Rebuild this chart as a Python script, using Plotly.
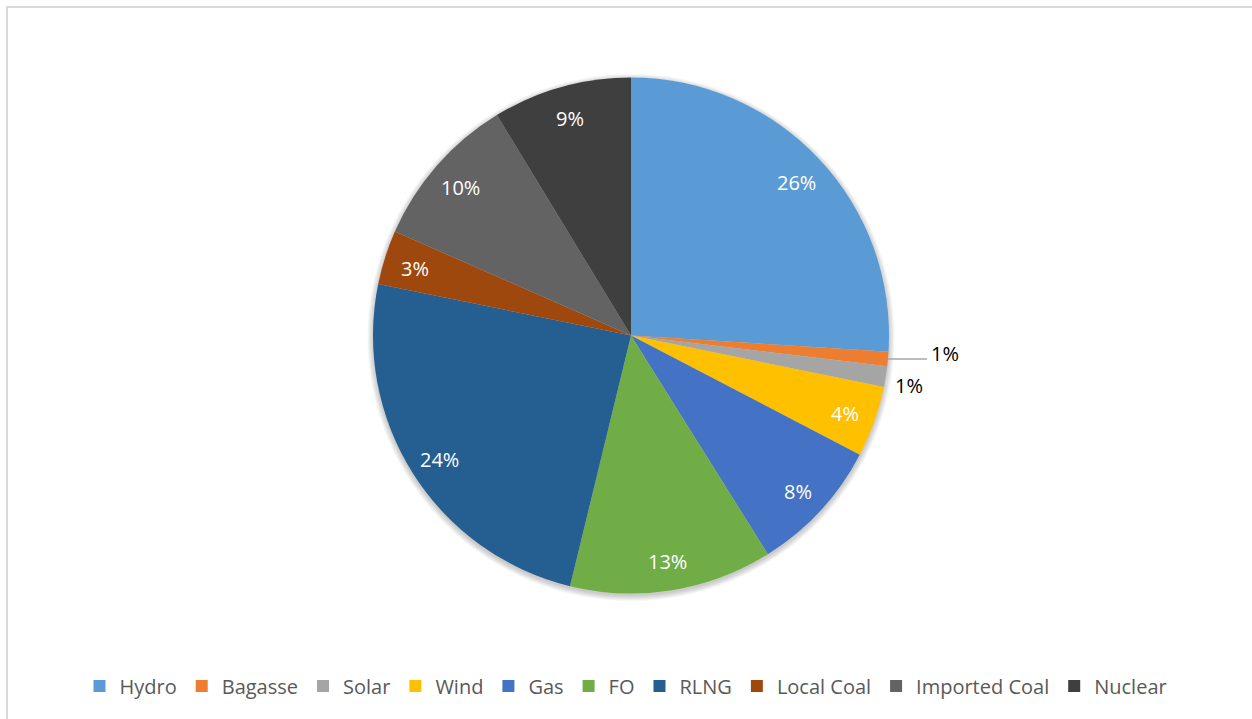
import math
import plotly.graph_objects as go

# Electricity generation mix by fuel (% share)
fuels = ["Hydro", "Bagasse", "Solar", "Wind", "Gas", "FO", "RLNG",
         "Local Coal", "Imported Coal", "Nuclear"]
shares = [26.0, 0.9, 1.3, 4.45, 8.45, 12.7, 24.4, 3.4, 9.7, 8.7]
colors = ["#5b9bd5", "#ed7d31", "#a5a5a5", "#ffc000", "#4472c4",
          "#70ad47", "#255e91", "#9e480e", "#636363", "#3f3f3f"]
# slices whose labels sit outside the pie
outside = {"Bagasse": "leader", "Solar": "plain"}

W, H = 1252, 719
CX, CY, R = 631, 335.5, 258  # pie centre and radius in pixels


def px_to_paper(x, y):
    return x / W, 1 - y / H


def domain_for(cx, cy, r):
    return dict(x=[(cx - r) / W, (cx + r) / W],
                y=[1 - (cy + r) / H, 1 - (cy - r) / H])


fig = go.Figure()

# soft drop shadow: a few faint discs slightly below the pie
for k in range(6):
    fig.add_trace(go.Pie(
        values=[1], labels=["shadow"], sort=False, textinfo="none",
        hoverinfo="skip", showlegend=False,
        marker=dict(colors=["rgba(0,0,0,0.035)"], line=dict(width=0)),
        domain=domain_for(CX, CY + 2, R + 0.5 + k),
        automargin=False,
    ))

fig.add_trace(go.Pie(
    labels=fuels,
    values=shares,
    sort=False,
    direction="clockwise",
    rotation=0,
    textinfo="none",
    hoverinfo="label+percent",
    marker=dict(colors=colors, line=dict(width=0)),
    domain=domain_for(CX, CY, R),
    automargin=False,
))

# percentage labels placed at each slice's mid-angle
total = sum(shares)
annotations = []
shapes = []
cum = 0.0
for name, v in zip(fuels, shares):
    mid = (cum + v / 2) / total * 2 * math.pi
    cum += v
    txt = f"{v / total:.0%}"
    sx, sy = math.sin(mid), -math.cos(mid)
    kind = outside.get(name)
    if kind is None:
        r = 0.88 * R
        x, y = px_to_paper(CX + r * sx, CY + r * sy + 2)
        annotations.append(dict(x=x, y=y, xref="paper", yref="paper",
                                text=txt, showarrow=False,
                                xanchor="center", yanchor="middle",
                                font=dict(family="Open Sans", size=20, color="white")))
    elif kind == "leader":
        ex, ey = CX + R * sx, CY + R * sy
        x0, y0 = px_to_paper(ex, ey)
        x1, _ = px_to_paper(ex + 39, ey)
        shapes.append(dict(type="line", xref="paper", yref="paper",
                           x0=x0, y0=y0, x1=x1, y1=y0,
                           line=dict(color="#a6a6a6", width=1.5)))
        tx, ty = px_to_paper(ex + 41, ey - 5)
        annotations.append(dict(x=tx, y=ty, xref="paper", yref="paper",
                                text=txt, showarrow=False,
                                xanchor="left", yanchor="middle",
                                font=dict(family="Open Sans", size=20, color="black")))
    else:
        r = 1.09 * R
        x, y = px_to_paper(CX + r * sx, CY + r * sy + 5)
        annotations.append(dict(x=x, y=y, xref="paper", yref="paper",
                                text=txt, showarrow=False,
                                xanchor="center", yanchor="middle",
                                font=dict(family="Open Sans", size=20, color="black")))

# chart-area frame
shapes.append(dict(type="rect", xref="paper", yref="paper",
                   x0=7 / W, x1=1.01, y0=-0.01, y1=1 - 7 / H,
                   line=dict(color="#d9d9d9", width=2)))

fig.update_layout(
    width=W, height=H,
    margin=dict(l=0, r=0, t=0, b=0),
    paper_bgcolor="white",
    plot_bgcolor="white",
    annotations=annotations,
    shapes=shapes,
    showlegend=True,
    legend=dict(orientation="h", x=0.5, xanchor="center",
                y=1 - 686 / H, yanchor="middle",
                font=dict(family="Open Sans", size=20, color="#595959"),
                itemclick=False),
)

fig.write_html("out.html")
